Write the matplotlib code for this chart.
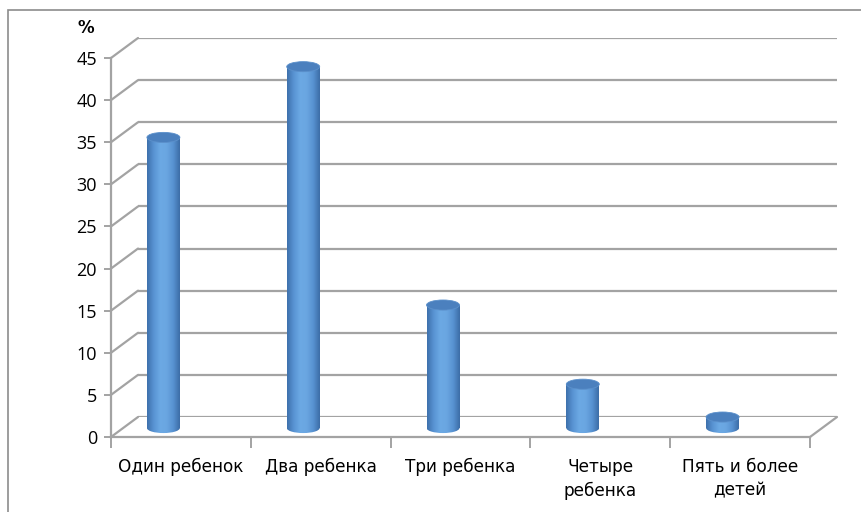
import matplotlib
matplotlib.use('Agg')
import numpy as np
import matplotlib.pyplot as plt
from matplotlib.colors import LinearSegmentedColormap
from matplotlib.patches import Ellipse, Rectangle, ConnectionPatch

categories = ["Один ребенок", "Два ребенка", "Три ребенка", "Четыре\nребенка", "Пять и более\nдетей"]
values = [34.5, 42.9, 14.6, 5.2, 1.3]
y_ticks = [0, 5, 10, 15, 20, 25, 30, 35, 40, 45]

W, H = 861, 512
GRID = "#a3a3a3"
cyl = LinearSegmentedColormap.from_list(
    "cyl", ["#3d70ab", "#5893d2", "#6ca9e4", "#6aa6e1", "#5792d1", "#3c6ca6"])


def box(x0, y_top, x1, y_bot):
    # pixel box -> figure fraction rect
    return [x0 / W, 1 - y_bot / H, (x1 - x0) / W, (y_bot - y_top) / H]


fig = plt.figure(figsize=(W / 100, H / 100), dpi=100)
fig.add_artist(Rectangle((8 / W, -0.1), 1.2, 1.1 - 10 / H, transform=fig.transFigure,
                         fill=False, edgecolor="#8c8c8c", lw=1.2))

# back wall (grid), front frame (axes), bars (shifted to mid depth)
ax_back = fig.add_axes(box(138, 38, 837, 417), zorder=0)
ax = fig.add_axes(box(111, 58, 810, 437), zorder=1)
ax_bar = fig.add_axes(box(93.5, 49, 792.5, 438), zorder=2)

n = len(categories)
px = 379 / 45  # pixels per unit
for a in (ax_back, ax, ax_bar):
    a.set_xlim(0, n)
    a.set_ylim(0, 45)
    a.patch.set_visible(False)
ax_bar.set_ylim(-10 / px, 45)
ax_back.set_axis_off()
ax_bar.set_axis_off()

for v in y_ticks:
    ax_back.axhline(v, color=GRID, lw=1.6)
    ax.add_artist(ConnectionPatch(xyA=(0, v), coordsA=ax.transData, xyB=(0, v),
                                  coordsB=ax_back.transData, color=GRID, lw=1.6))
ax.add_artist(ConnectionPatch(xyA=(n, 0), coordsA=ax.transData, xyB=(n, 0),
                              coordsB=ax_back.transData, color=GRID, lw=1.6))

# front axes
for s in ("top", "right"):
    ax.spines[s].set_visible(False)
for s in ("left", "bottom"):
    ax.spines[s].set_color(GRID)
    ax.spines[s].set_linewidth(1.6)
ax.set_yticks(y_ticks)
ax.set_yticklabels([str(t) for t in y_ticks], fontsize=13, family=["Open Sans", "DejaVu Sans"])
ax.tick_params(axis="y", length=5, width=1.4, color=GRID, pad=5)
ax.set_xticks(np.arange(n) + 0.5)
ax.set_xticklabels(categories, fontsize=12.2, family=["Liberation Sans Narrow", "DejaVu Sans"],
                   linespacing=1.4)
ax.set_xticks(np.arange(n + 1), minor=True)
ax.tick_params(axis="x", which="major", length=0, pad=15)
ax.tick_params(axis="x", which="minor", length=8, width=1.4, color=GRID)
fig.text(86 / W, 1 - 28 / H, "%", fontsize=12, fontweight="bold", ha="center", va="center")

# cylinders
bw = 0.236
cap = 1.2
grad = np.linspace(0, 1, 256).reshape(1, -1)
xc = np.arange(n) + 0.5
rects = ax_bar.bar(xc, values, width=bw, color="none", edgecolor="none")
for r, x, v in zip(rects, xc, values):
    body = ax_bar.imshow(grad, cmap=cyl, aspect="auto", interpolation="bicubic",
                         extent=(x - bw / 2, x + bw / 2, -cap, v), zorder=2)
    body.set_clip_path(r)
    base = Ellipse((x, 0), bw, cap, facecolor="none", edgecolor="none")
    ax_bar.add_patch(base)
    bottom = ax_bar.imshow(grad, cmap=cyl, aspect="auto", interpolation="bicubic",
                           extent=(x - bw / 2, x + bw / 2, -cap, v), zorder=2)
    bottom.set_clip_path(base)
    ax_bar.add_patch(Ellipse((x, v), bw, cap, facecolor="#4b80be",
                             edgecolor="#5b90cb", lw=0.6, zorder=3))

fig.savefig("out.png", dpi=100)
